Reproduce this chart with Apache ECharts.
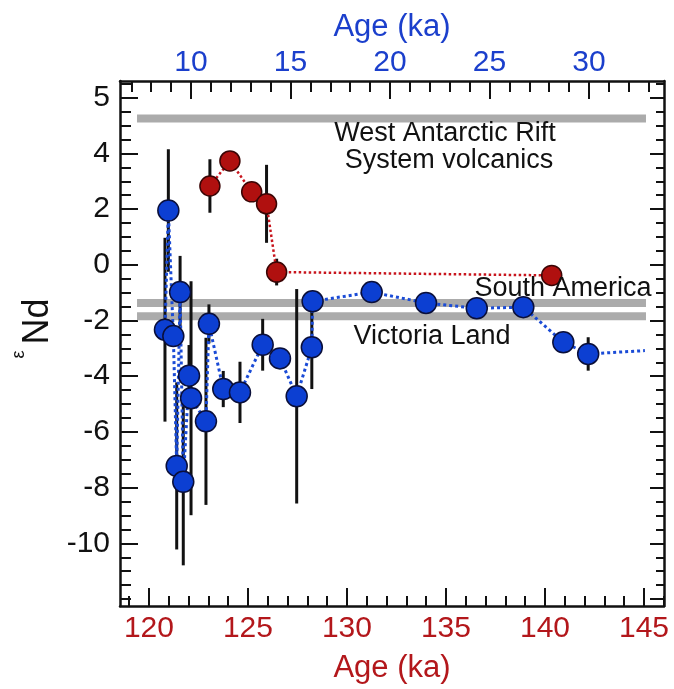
<!DOCTYPE html>
<html>
<head>
<meta charset="utf-8">
<script src="https://cdn.jsdelivr.net/npm/echarts@6/dist/echarts.min.js"></script>
<style>
  html, body { margin: 0; padding: 0; background: #fff; }
  #chart { width: 674px; height: 689px; }
</style>
</head>
<body>
<div id="chart"></div>
<script>
// blue: last deglaciation, read against the top axis (ka)
var blueAge = [8.69, 8.86, 9.11, 9.28, 9.45, 9.61, 9.90, 10.00, 10.75, 10.90, 11.62, 12.46,
               13.60, 14.47, 15.31, 16.07, 16.11, 19.08, 21.81, 24.36, 26.70, 28.71, 29.96];
var blueEnd = [-2.33, 1.95, -2.56, -7.22, -0.98, -7.79, -3.98, -4.79, -5.62, -2.12, -4.46, -4.58,
               -2.87, -3.36, -4.72, -2.96, -1.31, -0.98, -1.37, -1.56, -1.52, -2.78, -3.20];
var blueErr = [3.3, 2.2, 0.3, 3.0, 1.3, 3.0, 1.1, 4.2, 3.0, 0.7, 0.65, 1.1,
               0.93, 0.2, 3.85, 1.5, 0.3, 0, 0, 0, 0, 0, 0.6];
// the blue dotted line runs on past the last marker
var blueTailAge = 32.81;
var blueTailEnd = -3.08;

// red: penultimate deglaciation, read against the bottom axis (ka)
var redAge = [123.08, 124.09, 125.19, 125.94, 126.45, 140.34];
var redEnd = [2.83, 3.73, 2.62, 2.19, -0.26, -0.38];
var redErr = [0.96, 0.2, 0.15, 1.4, 0.48, 0.2];

// source end-members (grey bands)
var refNames = ['West Antarctic Rift System volcanics', 'South America', 'Victoria Land'];
var refEnd = [5.25, -1.37, -1.85];
var refFrom = 119.4;
var refTo = 145.1;

var bottomTicks = [120, 125, 130, 135, 140, 145];
var topTicks = [10, 15, 20, 25, 30];
var yTicks = [-10, -8, -6, -4, -2, 0, 2, 4, 6];
var yTickLabels = ['-10', '-8', '-6', '-4', '-2', '0', '2', '4', '5'];

var FONT = 'Liberation Sans, Arial, sans-serif';
var RED = '#b3171b';
var BLUE = '#1b3fcc';
var INK = '#111';

var chart = echarts.init(document.getElementById('chart'));

function range(a, b, step) {
  var out = [];
  for (var v = a; v <= b + 1e-9; v += step) out.push(Math.round(v * 100) / 100);
  return out;
}
var bottomMinor = range(119, 146, 1);
var topMinor = range(7, 33, 1);
var yMinor = range(-12, 6.5, 0.5);
var yMajorRight = range(-12, 6, 2);

var frameLine = { show: true, onZero: false, lineStyle: { color: INK, width: 2.5 } };
var tickStyle = { color: INK, width: 2 };

function minorAxis(pos, min, max, vals, len) {
  return {
    type: 'value', position: pos, min: min, max: max,
    axisLine: { show: false, onZero: false },
    axisTick: { show: true, inside: true, length: len, lineStyle: tickStyle, customValues: vals },
    axisLabel: { show: false },
    splitLine: { show: false }
  };
}

function errorBars(xIndex, ages, ends, errs) {
  var data = [];
  for (var i = 0; i < ages.length; i++) {
    if (errs[i] > 0) data.push([ages[i], ends[i] - errs[i], ends[i] + errs[i]]);
  }
  return {
    type: 'custom', xAxisIndex: xIndex, yAxisIndex: 0, z: 2, silent: true,
    encode: { x: 0, y: [1, 2] },
    renderItem: function (params, api) {
      var lo = api.coord([api.value(0), api.value(1)]);
      var hi = api.coord([api.value(0), api.value(2)]);
      return {
        type: 'line',
        shape: { x1: lo[0], y1: lo[1], x2: hi[0], y2: hi[1] },
        style: { stroke: INK, lineWidth: 3 }
      };
    },
    data: data
  };
}

var blueData = blueAge.map(function (a, i) { return [a, blueEnd[i]]; });
blueData.push({ value: [blueTailAge, blueTailEnd], symbol: 'none' });
var redData = redAge.map(function (a, i) { return [a, redEnd[i]]; });

var series = [];
refEnd.forEach(function (v, i) {
  series.push({
    name: refNames[i], type: 'line', xAxisIndex: 0, yAxisIndex: 0, z: 1, silent: true,
    symbol: 'none', lineStyle: { color: '#ababab', width: 8, cap: 'butt' },
    data: [[refFrom, v], [refTo, v]]
  });
});
series.push(errorBars(2, blueAge, blueEnd, blueErr));
series.push(errorBars(0, redAge, redEnd, redErr));
series.push({
  name: 'blue', type: 'line', xAxisIndex: 2, yAxisIndex: 0, z: 3,
  symbol: 'circle', symbolSize: 21,
  itemStyle: { color: '#0c3fd2', borderColor: '#0a0f3a', borderWidth: 1.5 },
  lineStyle: { color: '#1a4bd6', width: 3, type: [3, 3] },
  data: blueData
});
series.push({
  name: 'red', type: 'line', xAxisIndex: 0, yAxisIndex: 0, z: 3,
  symbol: 'circle', symbolSize: 20,
  itemStyle: { color: '#b0100f', borderColor: '#3a0505', borderWidth: 1.5 },
  lineStyle: { color: '#c8141c', width: 2.5, type: [2.5, 2.5] },
  data: redData
});

function note(text, x, y) {
  return {
    type: 'text', x: x, y: y, z: 100, silent: true,
    style: { text: text, font: '27px ' + FONT, fill: INK, align: 'center', verticalAlign: 'middle' }
  };
}

var option = {
  animation: false,
  backgroundColor: '#fff',
  textStyle: { fontFamily: FONT },
  grid: { left: 120, right: 10, top: 81, bottom: 83, outerBoundsMode: 'none' },
  xAxis: [
    {
      type: 'value', position: 'bottom', min: 118.54, max: 146.01,
      axisLine: frameLine,
      axisTick: { show: true, inside: true, length: 18, lineStyle: tickStyle, customValues: bottomTicks },
      axisLabel: { customValues: bottomTicks, color: RED, fontSize: 30, margin: 8, fontFamily: FONT },
      splitLine: { show: false },
      name: 'Age (ka)', nameLocation: 'middle', nameGap: 47,
      nameTextStyle: { color: RED, fontSize: 31, fontFamily: FONT }
    },
    minorAxis('bottom', 118.54, 146.01, bottomMinor, 10),
    {
      type: 'value', position: 'top', min: 6.43, max: 33.77,
      axisLine: frameLine,
      axisTick: { show: true, inside: true, length: 18, lineStyle: tickStyle, customValues: topTicks },
      axisLabel: { customValues: topTicks, color: BLUE, fontSize: 30, margin: 3, fontFamily: FONT },
      splitLine: { show: false },
      name: 'Age (ka)', nameLocation: 'middle', nameGap: 38,
      nameTextStyle: { color: BLUE, fontSize: 31, fontFamily: FONT }
    },
    minorAxis('top', 6.43, 33.77, topMinor, 11)
  ],
  yAxis: [
    {
      type: 'value', position: 'left', min: -12.25, max: 6.6,
      axisLine: frameLine,
      axisTick: { show: true, inside: true, length: 18, lineStyle: tickStyle, customValues: yTicks },
      axisLabel: {
        customValues: yTicks, color: INK, fontSize: 30, margin: 10, fontFamily: FONT,
        formatter: function (v) {
          var i = yTicks.indexOf(v);
          return i < 0 ? '' : yTickLabels[i];
        }
      },
      splitLine: { show: false },
      name: '{e|ε}{n|Nd}', nameLocation: 'middle', nameGap: 60, nameRotate: 90,
      nameTextStyle: {
        padding: [0, 0, 0, 30],
        rich: {
          e: { fontSize: 18, fontFamily: FONT, color: INK, verticalAlign: 'top', padding: [0, 6, 0, 0] },
          n: { fontSize: 36, fontFamily: FONT, color: INK, verticalAlign: 'bottom', padding: [10, 0, 0, 0] }
        }
      }
    },
    minorAxis('left', -12.25, 6.6, yMinor, 11),
    {
      type: 'value', position: 'right', min: -12.25, max: 6.6,
      axisLine: frameLine,
      axisTick: { show: true, inside: true, length: 14, lineStyle: tickStyle, customValues: yMajorRight },
      axisLabel: { show: false },
      splitLine: { show: false }
    },
    minorAxis('right', -12.25, 6.6, yMinor, 8)
  ],
  graphic: [
    note('West Antarctic Rift', 445, 134),
    note('System volcanics', 449, 161),
    note('South America', 563, 289),
    note('Victoria Land', 432, 337)
  ],
  series: series
};

chart.setOption(option);
</script>
</body>
</html>
